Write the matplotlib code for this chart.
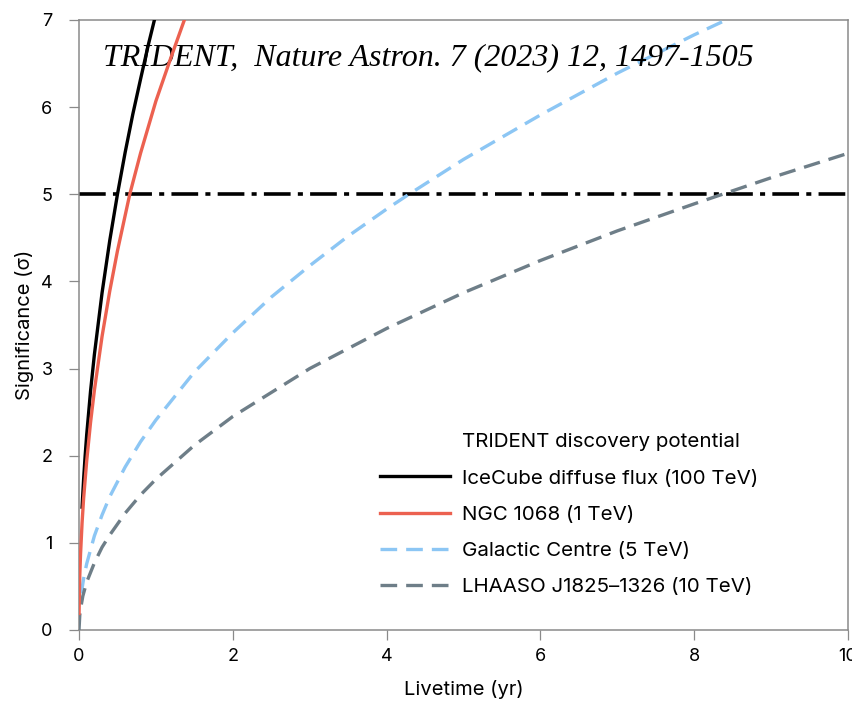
import matplotlib
matplotlib.use("Agg")
import matplotlib.pyplot as plt

plt.rcParams['font.family'] = ['Inter', 'DejaVu Sans']

# ---- data ----
t_icecube = [0.04, 0.06, 0.08, 0.1, 0.15, 0.2, 0.3, 0.4, 0.5, 0.6, 0.7, 0.8, 0.9, 1.0, 1.05]
s_icecube = [1.41, 1.73, 2.0, 2.24, 2.74, 3.16, 3.87, 4.47, 5.0, 5.48, 5.92, 6.32, 6.71, 7.07, 7.24]

t_ngc = [0.001, 0.005, 0.01, 0.02, 0.04, 0.06, 0.1, 0.15, 0.2, 0.3, 0.4, 0.5, 0.66, 0.8, 1.0, 1.2, 1.37, 1.45]
s_ngc = [0.19, 0.43, 0.62, 0.87, 1.23, 1.51, 1.94, 2.38, 2.75, 3.37, 3.89, 4.35, 5.0, 5.47, 6.07, 6.58, 7.0, 7.18]

t_gc = [0.03, 0.06, 0.1, 0.2, 0.3, 0.4, 0.6, 0.8, 1.0, 1.5, 2, 2.5, 3, 3.5, 4, 4.29, 5, 6, 7, 8, 9]
s_gc = [0.42, 0.59, 0.76, 1.08, 1.32, 1.53, 1.87, 2.16, 2.41, 2.96, 3.41, 3.82, 4.18, 4.52, 4.83, 5.0,
        5.40, 5.91, 6.39, 6.83, 7.24]

t_lhaaso = [0.0, 0.01, 0.02, 0.05, 0.1, 0.2, 0.3, 0.4, 0.6, 0.8, 1, 1.5, 2, 3, 4, 5, 6, 7, 8, 9, 10]
s_lhaaso = [0.0, 0.17, 0.24, 0.39, 0.55, 0.77, 0.95, 1.09, 1.34, 1.55, 1.73, 2.12, 2.45, 3.0, 3.46,
            3.87, 4.24, 4.58, 4.89, 5.19, 5.47]

threshold = 5

labels = ["IceCube diffuse flux (100 TeV)", "NGC 1068 (1 TeV)",
          "Galactic Centre (5 TeV)", "LHAASO J1825\u20131326 (10 TeV)"]
legend_title = "TRIDENT discovery potential"
citation = "TRIDENT,  Nature Astron. 7 (2023) 12, 1497-1505"

x_ticks = [0, 2, 4, 6, 8, 10]
y_ticks = [0, 1, 2, 3, 4, 5, 6, 7]

# ---- figure ----
fig = plt.figure(figsize=(8.53, 7.01), dpi=100)
ax = fig.add_axes([79/853, 1 - 630/701, 769/853, 610/701])

c_black = "#000000"
c_red = "#EC6150"
c_blue = "#8CC6F4"
c_gray = "#6E7E88"
lw = 2.4

ax.plot([], [], color='none', label=legend_title)
ax.plot(t_icecube, s_icecube, color=c_black, lw=lw, label=labels[0], zorder=3)
ax.plot(t_ngc, s_ngc, color=c_red, lw=lw, label=labels[1], zorder=4)
ax.plot(t_gc, s_gc, color=c_blue, lw=lw, dashes=(5, 2.7), label=labels[2], zorder=3)
ax.plot(t_lhaaso, s_lhaaso, color=c_gray, lw=lw, dashes=(5, 2.7), label=labels[3], zorder=3)

ax.axhline(threshold, color="black", lw=2.6, dashes=(7.4, 2.0, 1.4, 2.0), zorder=2)

ax.set_xlim(0, 10)
ax.set_ylim(0, 7)
ax.set_xticks(x_ticks)
ax.set_yticks(y_ticks)

for sp in ax.spines.values():
    sp.set_color("#8a8a8a")
    sp.set_linewidth(1.1)
ax.tick_params(axis='both', which='major', direction='out', length=7, width=0.9,
               color="#8a8a8a", labelsize=13, labelcolor='black')
ax.tick_params(axis='x', pad=6)
ax.tick_params(axis='y', pad=12)

ax.set_xlabel("Livetime (yr)", fontsize=14.5, labelpad=11)
ax.set_ylabel("Significance (\u03c3)", fontsize=14.5, labelpad=5)

ax.text(0.031, 0.926, citation, transform=ax.transAxes, fontsize=23,
        family=['Liberation Serif', 'DejaVu Serif'], style='italic', va='baseline', ha='left')

leg = ax.legend(loc='lower left', bbox_to_anchor=(0.391, 0.055), frameon=False,
                fontsize=14.8, handlelength=3.4, handletextpad=0.62, labelspacing=0.87,
                borderpad=0, borderaxespad=0)

fig.savefig("out.png", dpi=100)
